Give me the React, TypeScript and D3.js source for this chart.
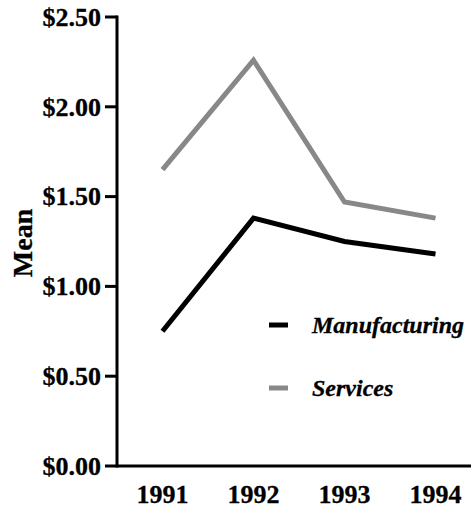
import React from "react";
import * as d3 from "d3";

const years = ["1991", "1992", "1993", "1994"];
const manufacturing = [0.75, 1.38, 1.25, 1.18];
const services = [1.65, 2.26, 1.47, 1.38];
const yTicks = [0, 0.5, 1, 1.5, 2, 2.5];
const seriesNames = ["Manufacturing", "Services"];
const seriesColors = ["#000000", "#888888"];

const W = 471;
const H = 508;
const FONT = "'Liberation Serif', 'Times New Roman', serif";

export default function App() {
  const x = d3.scaleBand<string>().domain(years).range([117, 481]);
  const y = d3.scaleLinear().domain([0, 2.5]).range([466, 17]);
  const fmt = d3.format("$.2f");
  const line = d3
    .line<number>()
    .x((_, i) => (x(years[i]) as number) + x.bandwidth() / 2)
    .y((d) => y(d));
  const data = [manufacturing, services];
  const legendY = [325, 388];

  return (
    <svg
      width={W}
      height={H}
      style={{ position: "absolute", left: 0, top: 0, background: "#fff" }}
      fontFamily={FONT}
    >
      {data.map((s, i) => (
        <path
          key={i}
          d={line(s) || ""}
          fill="none"
          stroke={seriesColors[i]}
          strokeWidth={5}
          strokeLinejoin="miter"
        />
      ))}
      {/* y axis */}
      <line x1={117} x2={117} y1={y(2.5) - 1.5} y2={y(0) + 1.5} stroke="#000" strokeWidth={3} />
      {yTicks.map((t) => (
        <g key={t}>
          <line x1={105} x2={117} y1={y(t)} y2={y(t)} stroke="#000" strokeWidth={3} />
          <text
            x={101}
            y={y(t)}
            dy="0.34em"
            textAnchor="end"
            fontSize={26}
            fontWeight="bold"
            stroke="#000"
            strokeWidth={0.3}
          >
            {fmt(t)}
          </text>
        </g>
      ))}
      {/* x axis */}
      <line x1={117} x2={W} y1={y(0)} y2={y(0)} stroke="#000" strokeWidth={3} />
      {years.map((yr) => (
        <text
          key={yr}
          x={(x(yr) as number) + x.bandwidth() / 2}
          y={503}
          textAnchor="middle"
          fontSize={26}
          fontWeight="bold"
          stroke="#000"
          strokeWidth={0.3}
        >
          {yr}
        </text>
      ))}
      <text
        transform={`translate(32,243) rotate(-90)`}
        textAnchor="middle"
        fontSize={28}
        fontWeight="bold"
        stroke="#000"
        strokeWidth={0.3}
      >
        Mean
      </text>
      {/* legend */}
      {seriesNames.map((n, i) => (
        <g key={n}>
          <line
            x1={269}
            x2={288}
            y1={legendY[i]}
            y2={legendY[i]}
            stroke={seriesColors[i]}
            strokeWidth={5}
          />
          <text
            x={312}
            y={legendY[i]}
            dy="0.35em"
            fontSize={24}
            fontWeight="bold"
            fontStyle="italic"
            stroke="#000"
            strokeWidth={0.3}
          >
            {n}
          </text>
        </g>
      ))}
    </svg>
  );
}
